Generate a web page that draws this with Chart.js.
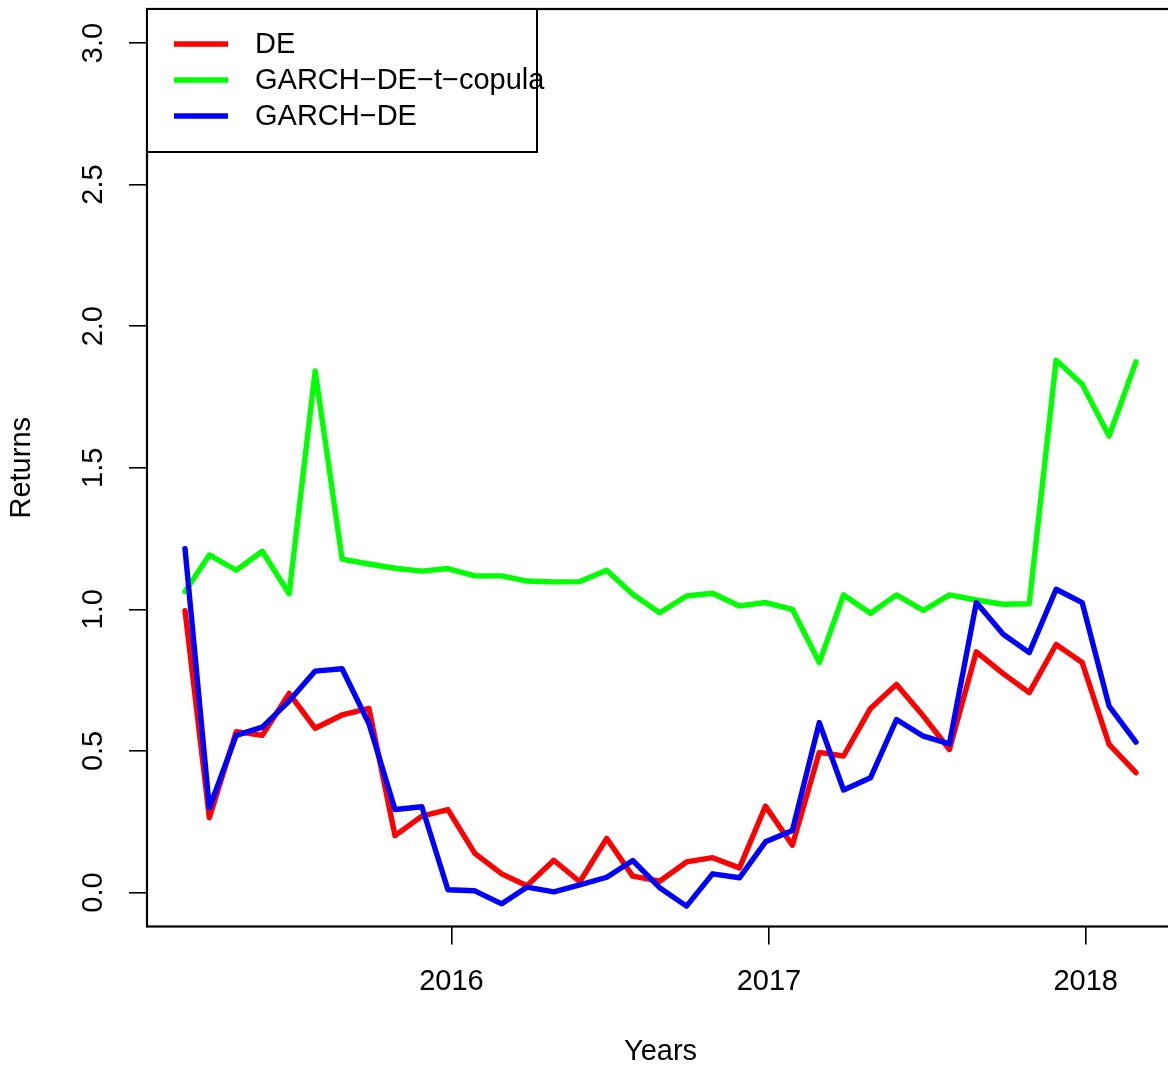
<!DOCTYPE html>
<html>
<head>
<meta charset="utf-8">
<script src="https://cdn.jsdelivr.net/npm/chart.js@4.4.1/dist/chart.umd.min.js"></script>
<style>
  html, body { margin: 0; padding: 0; background: #fff; overflow: hidden; }
  #wrap { width: 1168px; height: 1070px; overflow: hidden; }
</style>
</head>
<body>
<div id="wrap"><canvas id="chart" width="1175" height="1070"></canvas></div>
<script>
"use strict";

// monthly observation dates
const dates = [
    "2015-02-28", "2015-03-28", "2015-04-28", "2015-05-28", "2015-06-28", "2015-07-28",
    "2015-08-28", "2015-09-28", "2015-10-28", "2015-11-28", "2015-12-28",
    "2016-01-28", "2016-02-28", "2016-03-28", "2016-04-28", "2016-05-28", "2016-06-28",
    "2016-07-28", "2016-08-28", "2016-09-28", "2016-10-28", "2016-11-28", "2016-12-28",
    "2017-01-28", "2017-02-28", "2017-03-28", "2017-04-28", "2017-05-28", "2017-06-28",
    "2017-07-28", "2017-08-28", "2017-09-28", "2017-10-28", "2017-11-28", "2017-12-28",
    "2018-01-28", "2018-02-28"
];

const deReturns = [
    0.995, 0.264, 0.568, 0.555, 0.703, 0.580, 0.627, 0.650, 0.201, 0.270, 0.293,
    0.138, 0.066, 0.024, 0.114, 0.038, 0.191, 0.058, 0.040, 0.108, 0.123, 0.087, 0.305,
    0.167, 0.495, 0.482, 0.650, 0.735, 0.623, 0.505, 0.850, 0.773, 0.706, 0.876, 0.812,
    0.523, 0.423
];

const garchTCopulaReturns = [
    1.063, 1.192, 1.138, 1.205, 1.055, 1.842, 1.177, 1.160, 1.145, 1.135, 1.144,
    1.118, 1.118, 1.100, 1.097, 1.098, 1.138, 1.053, 0.988, 1.047, 1.057, 1.012, 1.024,
    1.000, 0.812, 1.051, 0.986, 1.051, 0.996, 1.051, 1.033, 1.018, 1.020, 1.880, 1.795,
    1.612, 1.874
];

const garchReturns = [
    1.214, 0.299, 0.555, 0.584, 0.676, 0.782, 0.790, 0.596, 0.293, 0.303, 0.010,
    0.006, -0.040, 0.019, 0.002, 0.027, 0.054, 0.113, 0.017, -0.048, 0.066, 0.052, 0.179,
    0.219, 0.600, 0.362, 0.405, 0.611, 0.552, 0.525, 1.024, 0.912, 0.847, 1.071, 1.024,
    0.658, 0.531
];

const yearTicks = [2016, 2017, 2018];
const returnTicks = [0, 0.5, 1, 1.5, 2, 2.5, 3];

const FONT = "'Liberation Sans', Arial, Helvetica, sans-serif";
const FONT_SIZE = 29;

Chart.defaults.font.family = FONT;
Chart.defaults.font.size = FONT_SIZE;
Chart.defaults.color = "#000";

const times = dates.map(function(s) { return Date.parse(s + "T00:00:00Z"); });
const span = times[times.length - 1] - times[0];
// 4% padding on each side, like base R plots
const xMin = times[0] - 0.04 * span;
const xMax = times[times.length - 1] + 0.04 * span;

function toPoints(values) {
    return values.map(function(v, i) { return { x: times[i], y: v }; });
}

function lineSet(label, values, color, order) {
    return {
        label: label,
        data: toPoints(values),
        borderColor: color,
        backgroundColor: color,
        borderWidth: 5.4,
        borderJoinStyle: "round",
        borderCapStyle: "round",
        pointRadius: 0,
        pointHoverRadius: 0,
        tension: 0,
        fill: false,
        order: order
    };
}

const axisGrid = {
    drawOnChartArea: false,
    drawTicks: true,
    tickLength: 18,
    lineWidth: 1.6,
    tickWidth: 1.6,
    tickColor: "#000"
};

// box around the plotting region
const frame = {
    id: "frame",
    afterDatasetsDraw: function(chart) {
        const ctx = chart.ctx;
        const a = chart.chartArea;
        ctx.save();
        ctx.strokeStyle = "#000";
        ctx.lineWidth = 2.2;
        ctx.strokeRect(a.left, a.top, a.right - a.left, a.bottom - a.top);
        ctx.restore();
    }
};

// boxed legend in the top-left corner, line samples on the left
const boxLegend = {
    id: "boxLegend",
    afterDraw: function(chart) {
        const ctx = chart.ctx;
        const a = chart.chartArea;
        const w = 390, h = 143;
        ctx.save();
        ctx.fillStyle = "#fff";
        ctx.fillRect(a.left, a.top, w, h);
        ctx.strokeStyle = "#000";
        ctx.lineWidth = 2;
        ctx.strokeRect(a.left, a.top, w, h);
        ctx.font = FONT_SIZE + "px " + FONT;
        ctx.textBaseline = "middle";
        ctx.textAlign = "left";
        chart.data.datasets.forEach(function(ds, i) {
            const y = a.top + 35 + i * 36;
            ctx.strokeStyle = ds.borderColor;
            ctx.lineWidth = ds.borderWidth;
            ctx.lineCap = "butt";
            ctx.beginPath();
            ctx.moveTo(a.left + 27, y);
            ctx.lineTo(a.left + 81, y);
            ctx.stroke();
            ctx.fillStyle = "#000";
            ctx.fillText(ds.label, a.left + 108, y + 1);
        });
        ctx.restore();
    }
};

new Chart(document.getElementById("chart").getContext("2d"), {
    type: "line",
    data: {
        datasets: [
            lineSet("DE", deReturns, "#ff0000", 3),
            lineSet("GARCH\u2212DE\u2212t\u2212copula", garchTCopulaReturns, "#00ff00", 2),
            lineSet("GARCH\u2212DE", garchReturns, "#0000ff", 1)
        ]
    },
    options: {
        responsive: false,
        devicePixelRatio: 1,
        animation: false,
        layout: { padding: { top: 9, left: 0, right: 1, bottom: 0 } },
        plugins: {
            legend: { display: false },
            tooltip: { enabled: false }
        },
        scales: {
            x: {
                type: "linear",
                min: xMin,
                max: xMax,
                bounds: "data",
                afterBuildTicks: function(scale) {
                    scale.ticks = yearTicks.map(function(y) { return { value: Date.UTC(y, 0, 1) }; });
                },
                afterFit: function(scale) {
                    scale.height = 143.5;
                    scale.paddingLeft = 0;
                    scale.paddingRight = 0;
                },
                ticks: {
                    autoSkip: false,
                    minRotation: 0,
                    maxRotation: 0,
                    padding: 20,
                    callback: function(v) { return String(new Date(v).getUTCFullYear()); }
                },
                grid: axisGrid,
                border: { display: false },
                title: { display: true, text: "Years", padding: { top: 0, bottom: 1 } }
            },
            y: {
                type: "linear",
                min: -0.12,
                max: 3.12,
                bounds: "data",
                afterBuildTicks: function(scale) {
                    scale.ticks = returnTicks.map(function(v) { return { value: v }; });
                },
                afterFit: function(scale) {
                    scale.width = 147;
                    scale.paddingTop = 0;
                    scale.paddingBottom = 0;
                },
                ticks: {
                    autoSkip: false,
                    minRotation: 90,
                    maxRotation: 90,
                    crossAlign: "center",
                    padding: 15,
                    callback: function(v) { return v.toFixed(1); }
                },
                grid: axisGrid,
                border: { display: false },
                title: { display: true, text: "Returns", padding: { top: 5, bottom: 0 } }
            }
        }
    },
    plugins: [frame, boxLegend]
});
</script>
</body>
</html>
